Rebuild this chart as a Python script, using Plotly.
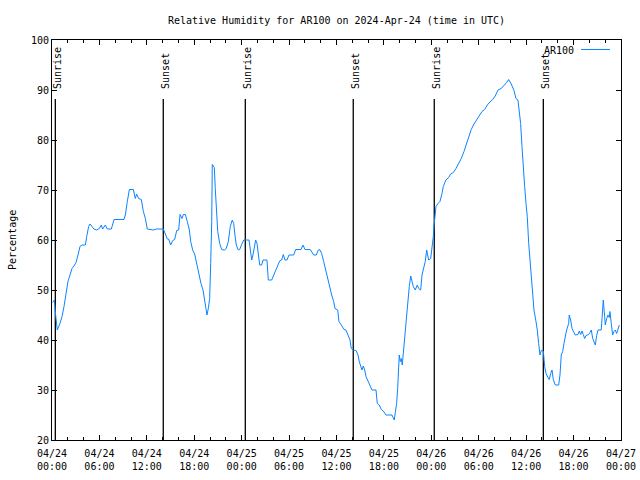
import pandas as pd
import plotly.graph_objects as go

station = "AR100"
start = pd.Timestamp("2024-04-24 00:00")

# hours since 2024-04-24 00:00 UTC
hours = [
    0.08, 0.30, 0.46, 0.67, 1.01, 1.27, 1.52, 1.77, 2.02, 2.28, 2.53, 2.78, 3.04, 3.29, 3.54, 3.80,
    4.22, 4.39, 4.64, 4.81, 5.06, 5.31, 5.65, 5.99, 6.24, 6.41, 6.75, 7.00, 7.51, 7.85, 9.11,
    9.28, 9.53, 9.79, 10.29, 10.54, 10.71, 10.97, 11.30, 11.56, 11.81, 12.06, 12.82, 13.24,
    14.09, 14.34, 14.59, 14.76, 15.02, 15.27, 15.52, 15.78, 16.03, 16.20, 16.45, 16.62, 16.87,
    17.12, 17.38, 17.55, 17.80, 18.05, 18.22, 18.47, 18.64, 18.85, 19.11, 19.36, 19.61, 19.78,
    19.95, 20.08, 20.21, 20.28, 20.54, 20.66, 20.79, 20.97, 21.22, 21.47, 21.80, 22.05, 22.31,
    22.56, 22.81, 22.99, 23.15, 23.32, 23.57, 23.75, 24.00, 24.26, 24.93, 25.09, 25.27, 25.43,
    25.60, 25.77, 25.94, 26.10, 26.28, 26.53, 26.70, 27.20, 27.37, 27.80, 28.05, 28.30, 28.56,
    28.81, 29.06, 29.27, 29.48, 29.73, 29.99, 30.58, 30.84, 31.51, 31.76, 32.01, 32.68, 32.94,
    33.11, 33.44, 33.70, 33.87, 34.12, 34.38, 34.63, 34.88, 35.14, 35.39, 35.64, 35.81, 36.15,
    36.31, 36.69, 36.95, 37.20, 37.45, 37.71, 37.87, 38.12, 38.47, 38.72, 38.88, 39.06, 39.22,
    39.39, 39.57, 39.73, 39.98, 40.24, 40.49, 41.00, 41.16, 41.41, 41.67, 41.92, 42.17, 42.26,
    43.02, 43.18, 43.31, 43.44, 43.61, 43.74, 43.87, 43.94, 44.07, 44.20, 44.32, 44.45, 44.54,
    44.70, 44.88, 45.08, 45.21, 45.39, 45.51, 45.72, 45.97, 46.22, 46.40, 46.65, 46.82, 46.98,
    47.23, 47.41, 47.66, 47.92, 48.08, 48.25, 48.33, 48.46, 48.59, 48.84, 49.09, 49.35, 49.51,
    49.85, 50.19, 50.45, 50.78, 51.12, 51.46, 51.79, 52.13, 52.47, 52.80, 53.05, 53.40, 53.74,
    54.07, 54.41, 54.75, 55.08, 55.42, 55.76, 56.09, 56.43, 56.85, 57.19, 57.53, 57.79, 58.11,
    58.46, 58.71, 58.96, 59.13, 59.30, 59.47, 59.63, 59.81, 59.98, 60.14, 60.32, 60.48, 60.65,
    60.82, 60.99, 61.24, 61.41, 61.58, 61.75, 61.91, 62.17, 62.34, 62.51, 62.76, 62.92, 63.10,
    63.27, 63.43, 63.68, 64.11, 64.28, 64.44, 64.62, 64.78, 64.95, 65.12, 65.38, 65.45, 65.63,
    65.80, 66.05, 66.21, 66.55, 66.72, 66.90, 67.06, 67.23, 67.40, 67.57, 67.91, 68.07, 68.24,
    68.42, 68.58, 68.75, 68.92, 69.09, 69.50, 69.59, 69.76, 69.93, 70.01, 70.19, 70.35, 70.52,
    70.60, 70.77, 70.94, 71.11, 71.28, 71.45, 71.62, 71.79,
]

humidity = [
    47.5, 48, 45, 42, 43.3, 44.7, 46.7, 49, 51.7, 53, 54.3, 54.8, 55.5, 57, 58.7, 59,
    59, 60.7, 62.7, 63.2, 62.8, 62.2, 62, 62.3, 63, 62.2, 63, 62.2, 62.2, 64.1, 64.1,
    65, 67.7, 70.1, 70.1, 68.3, 69.2, 68.3, 68.1, 65.7, 64.3, 62.2, 62, 62.2,
    62.2, 61.3, 60.2, 60.2, 59, 59.9, 60.1, 61.9, 62, 65.1, 64.3, 65.1, 65.1,
    63.7, 62, 59.7, 58, 57.2, 56, 54.3, 52.5, 51.3, 50, 47.7, 45, 46.3,
    48.3, 55.3, 63.7, 75.1, 74.5, 70.3, 65.3, 61.7, 59.3, 58.1, 58, 58.3, 59.7,
    62.7, 64, 63.3, 61, 59, 58, 58.1, 59.1, 60, 60, 57.7, 56, 57,
    58.7, 60, 59.3, 57, 55, 55, 56, 56, 52, 52, 53, 54, 55,
    55.8, 56, 57.1, 56, 56, 57, 57, 58.1, 58.1, 59, 58.1, 58.1, 57.5,
    57, 57, 58, 58.1, 57.3, 55.7, 54, 52.3, 50.3, 49, 47.7, 46.3, 46,
    43.7, 42.8, 42.1, 42, 41, 40, 38.3, 38, 37.9, 37, 35.7, 34.7, 34,
    34.8, 34, 32.7, 31.7, 30.8, 30, 30, 27.3, 27, 26.1, 25.8, 25.3, 25,
    25, 24.5, 24, 25.5, 27.3, 30.3, 34.7, 37, 35.7, 36.3, 35, 37.3, 39.3,
    42.3, 44, 48.3, 50.7, 52.8, 52, 50.7, 50, 51, 50.3, 50, 53, 54.3,
    55.7, 58, 56, 56.3, 58, 60.7, 62.7, 65.3, 66.7, 67.3, 67.7, 69.3, 70.7,
    72, 72.5, 73.2, 73.5, 74.3, 75.3, 76.3, 77.7, 79.3, 80.7, 82.1, 83.2, 84,
    84.8, 85.7, 86.1, 87, 87.6, 88.1, 88.8, 90, 90.3, 90.8, 91.5, 92.1, 91.2,
    89.9, 88.3, 88, 85.7, 83.3, 78.7, 74, 70.7, 67.3, 64.7, 59.3, 56, 52,
    48.7, 46, 43.7, 42, 39.3, 37, 37.9, 37.8, 34.7, 33.3, 32.5, 32.1, 33.3,
    34, 32.1, 31, 31, 33, 37, 37.7, 39.3, 40.7, 42, 43.3, 45, 44,
    42.3, 41.5, 41, 41.1, 41.8, 41.1, 41.8, 41.1, 40.3, 40.9, 41.1, 41.5, 42,
    40.3, 39.8, 39, 40.9, 42, 42, 43.7, 48, 44.7, 43, 44.3, 45, 44.5,
    45.7, 43.3, 41, 41.7, 42, 41.3, 42.3, 43,
]

# sun events (hours since start)
sun_labels = ["Sunrise", "Sunset", "Sunrise", "Sunset", "Sunrise", "Sunset"]
sun_hours = [0.42, 14.08, 24.46, 38.12, 48.37, 62.17]

tick_hours = [0, 6, 12, 18, 24, 30, 36, 42, 48, 54, 60, 66, 72]
tick_text = [
    "04/24<br>00:00", "04/24<br>06:00", "04/24<br>12:00", "04/24<br>18:00",
    "04/25<br>00:00", "04/25<br>06:00", "04/25<br>12:00", "04/25<br>18:00",
    "04/26<br>00:00", "04/26<br>06:00", "04/26<br>12:00", "04/26<br>18:00",
    "04/27<br>00:00",
]

def to_time(h):
    return start + pd.to_timedelta(h, unit="h")

times = [to_time(h) for h in hours]
sun_times = [to_time(h) for h in sun_hours]
tick_vals = [to_time(h) for h in tick_hours]

FONT = "DejaVu Sans Mono"
BLUE = "#0a84ff"

fig = go.Figure()
fig.add_trace(go.Scatter(
    x=times, y=humidity, mode="lines", name=station,
    line=dict(color=BLUE, width=1), showlegend=False,
))

for lab, t in zip(sun_labels, sun_times):
    fig.add_shape(type="line", xref="x", yref="paper", x0=t, x1=t, y0=0, y1=0.8525,
                  line=dict(color="black", width=1.3), layer="below")
    fig.add_annotation(x=t, y=0.872, xref="x", yref="paper", text=lab, textangle=-90,
                       showarrow=False, xanchor="center", yanchor="bottom", xshift=1.5,
                       font=dict(family=FONT, size=10, color="black"))

# legend (gnuplot style: text then sample line)
fig.add_annotation(x=0.9210, y=0.975, xref="paper", yref="paper", text=station,
                   showarrow=False, xanchor="right", yanchor="middle",
                   font=dict(family=FONT, size=10, color="black"))
fig.add_shape(type="line", xref="paper", yref="paper", x0=0.9297, x1=0.9807,
              y0=0.9763, y1=0.9763, line=dict(color=BLUE, width=1))

# y axis title
fig.add_annotation(x=-40 / 569, y=0.5, xref="paper", yref="paper", text="Percentage",
                   textangle=-90, showarrow=False, xanchor="center", yanchor="middle",
                   font=dict(family=FONT, size=10, color="black"))

axis_common = dict(
    showgrid=False, zeroline=False, showline=True, linecolor="black", linewidth=1,
    mirror="allticks", ticks="inside", ticklen=5, tickcolor="black", tickwidth=1,
    tickfont=dict(family=FONT, size=10, color="black"), automargin=False,
)

fig.update_xaxes(
    type="date", range=[tick_vals[0], tick_vals[-1]],
    tickmode="array", tickvals=tick_vals, ticktext=tick_text, ticklabelstandoff=4,
    minor=dict(ticks="inside", ticklen=3, dtick=2 * 3600 * 1000, tickcolor="black", showgrid=False),
    **axis_common,
)
fig.update_yaxes(
    range=[20, 100], dtick=10, tick0=20,
    **axis_common,
)

fig.update_layout(
    width=640, height=480,
    margin=dict(l=52, r=19, t=40, b=40),
    paper_bgcolor="white", plot_bgcolor="white",
    title=dict(text="Relative Humidity for AR100 on 2024-Apr-24 (time in UTC)",
               x=0.5, xref="paper", xanchor="center", y=1 - 20 / 480, yref="container",
               yanchor="middle", font=dict(family=FONT, size=10, color="black")),
)

fig.write_html("out.html")
